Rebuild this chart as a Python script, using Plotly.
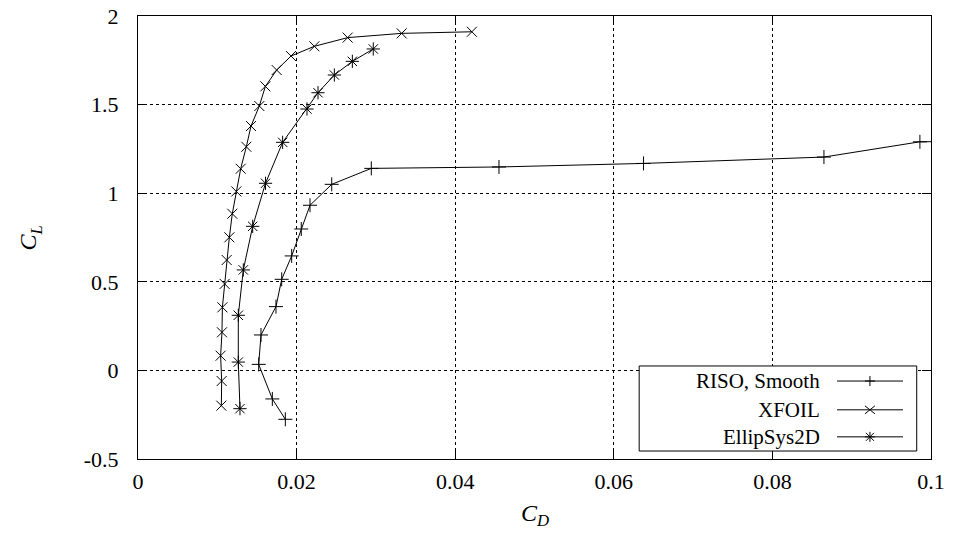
import plotly.graph_objects as go

# ---- data ----
riso_cd = [0.01858, 0.01694, 0.01522, 0.01551, 0.01740, 0.01812, 0.01938, 0.02059,
           0.02169, 0.02443, 0.02942, 0.04552, 0.06375, 0.08650, 0.09860, 0.12000]
riso_cl = [-0.276, -0.161, 0.034, 0.200, 0.360, 0.514, 0.646, 0.798,
           0.932, 1.050, 1.140, 1.148, 1.168, 1.204, 1.290, 1.300]

xfoil_cd = [0.01051, 0.01055, 0.01042, 0.01059, 0.01064, 0.01093, 0.01118, 0.01152,
            0.01189, 0.01240, 0.01295, 0.01366, 0.01425, 0.01530, 0.01606, 0.01749,
            0.01929, 0.02224, 0.02644, 0.03325, 0.04210]
xfoil_cl = [-0.199, -0.060, 0.083, 0.215, 0.356, 0.488, 0.623, 0.751,
            0.884, 1.010, 1.138, 1.262, 1.379, 1.492, 1.603, 1.695,
            1.774, 1.829, 1.878, 1.902, 1.911]

ellip_cd = [0.01286, 0.01265, 0.01265, 0.01328, 0.01446, 0.01608, 0.01824,
            0.02131, 0.02270, 0.02476, 0.02703, 0.02967]
ellip_cl = [-0.216, 0.047, 0.311, 0.567, 0.813, 1.056, 1.287,
            1.475, 1.567, 1.667, 1.744, 1.814]

series_names = ["RISO, Smooth", "XFOIL", "EllipSys2D"]
x_ticks = [0, 0.02, 0.04, 0.06, 0.08, 0.1]
x_tick_labels = ["0", "0.02", "0.04", "0.06", "0.08", "0.1"]
y_ticks = [-0.5, 0, 0.5, 1, 1.5, 2]
y_tick_labels = ["-0.5", "0", "0.5", "1", "1.5", "2"]

FONT = "Liberation Serif, Times New Roman, serif"
TICK_SIZE = 22

fig = go.Figure()
styles = [("cross-thin", 10), ("x-thin", 10), ("asterisk", 11)]
for (xs, ys), name, (sym, sz) in zip([(riso_cd, riso_cl), (xfoil_cd, xfoil_cl), (ellip_cd, ellip_cl)],
                                     series_names, styles):
    fig.add_trace(go.Scatter(
        x=xs, y=ys, mode="lines+markers", name=name, showlegend=False,
        line=dict(color="black", width=1),
        marker=dict(symbol=sym, size=sz, color="black", line=dict(color="black", width=1)),
        cliponaxis=True,
    ))

axis_common = dict(
    showline=True, linecolor="black", linewidth=1, mirror="ticks",
    ticks="inside", ticklen=9, tickcolor="black", tickwidth=1,
    showgrid=True, gridcolor="black", gridwidth=1, griddash="dot",
    zeroline=False, automargin=False, ticklabeloverflow="allow",
    tickfont=dict(family=FONT, size=TICK_SIZE, color="black"),
)

fig.update_xaxes(range=[0, 0.1], tickvals=x_ticks, ticktext=x_tick_labels,
                 ticklabelstandoff=3, **axis_common)
fig.update_yaxes(range=[-0.5, 2], tickvals=y_ticks, ticktext=y_tick_labels,
                 ticklabelstandoff=14, **axis_common)

# ---- custom gnuplot-style legend (text right, sample left->right) ----
shapes = [dict(type="rect", xref="paper", yref="paper", x0=0.632, x1=0.982, y0=0.018, y1=0.210,
               line=dict(color="black", width=1), fillcolor="white", layer="above")]
annotations = []
row_y = [0.176, 0.111, 0.050]
glyphs = [
    "M-5,0 L5,0 M0,-5 L0,5",
    "M-5,-4 L5,4 M-5,4 L5,-4",
    "M-5,0 L5,0 M0,-5 L0,5 M-4,-4 L4,4 M-4,4 L4,-4",
]
for name, ry, g in zip(series_names, row_y, glyphs):
    annotations.append(dict(text=name, xref="paper", yref="paper", x=0.8625, y=ry,
                            xanchor="right", yanchor="middle", showarrow=False,
                            font=dict(family=FONT, size=21, color="black")))
    shapes.append(dict(type="line", xref="paper", yref="paper", x0=0.8815, x1=0.9647, y0=ry, y1=ry,
                       line=dict(color="black", width=1), layer="above"))
    shapes.append(dict(type="path", xref="paper", yref="paper", xsizemode="pixel", ysizemode="pixel",
                       xanchor=0.923, yanchor=ry, path=g,
                       line=dict(color="black", width=1), layer="above"))

# axis titles
annotations.append(dict(text="<i>C</i><sub><i>D</i></sub>", xref="paper", yref="paper",
                        x=0.5, y=-0.126, xanchor="center", yanchor="middle", showarrow=False,
                        font=dict(family=FONT, size=24, color="black")))
annotations.append(dict(text="<i>C</i><sub><i>L</i></sub>", xref="paper", yref="paper",
                        x=-0.1362, y=0.5, xanchor="center", yanchor="middle", showarrow=False,
                        textangle=-90, font=dict(family=FONT, size=24, color="black")))

fig.update_layout(
    width=955, height=537,
    margin=dict(l=138, r=24, t=16, b=78),
    paper_bgcolor="white", plot_bgcolor="white",
    shapes=shapes, annotations=annotations,
    showlegend=False,
    font=dict(family=FONT, color="black"),
)

# remove the browser's default 8px body margin so the figure fills the window
fig.write_html("out.html", config={"displayModeBar": False},
               post_script="document.body.style.margin='0';document.body.style.overflow='hidden';")
